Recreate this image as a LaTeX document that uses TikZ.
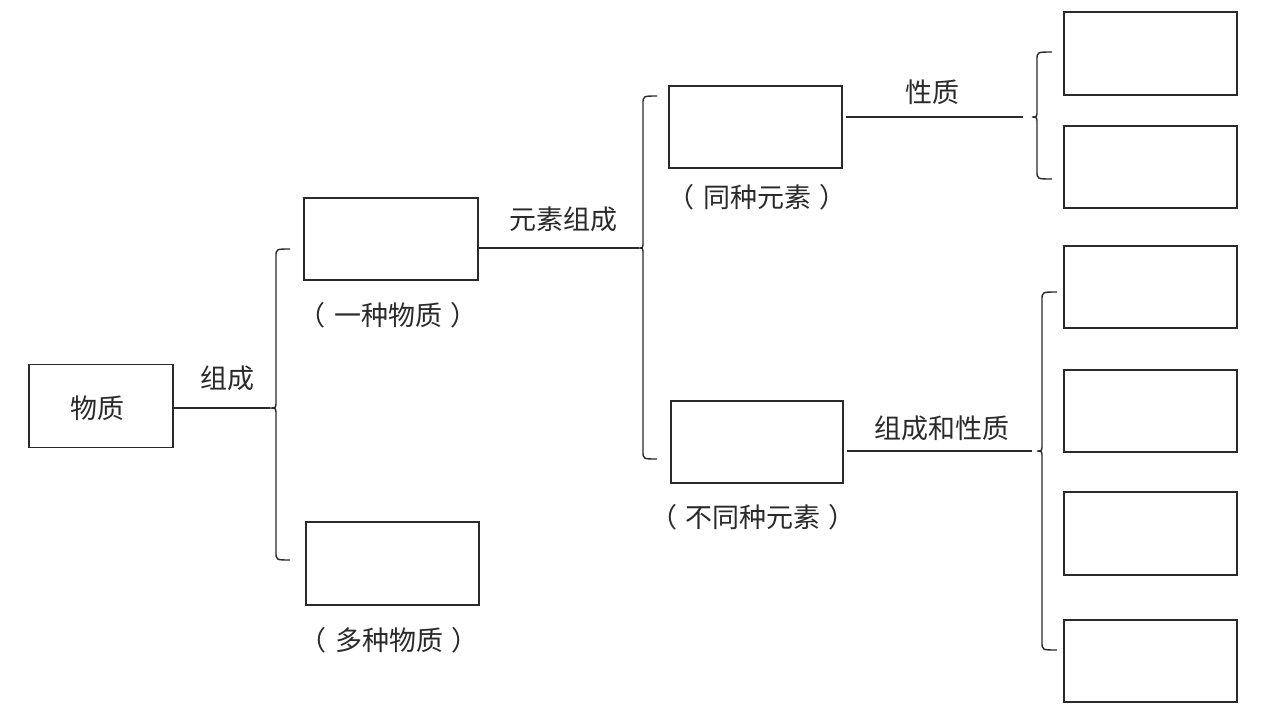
\documentclass[tikz,border=0pt]{standalone}
\usepackage{fontspec}
\setmainfont{Noto Sans CJK SC}
\definecolor{ink}{HTML}{2A2A2A}
\tikzset{
  blank/.style={draw=ink, line width=1.3pt, rectangle, inner sep=0pt, outer sep=0pt, minimum width=173pt, minimum height=82pt},
  lbl/.style={text=ink, font=\fontsize{27}{32}\selectfont, inner sep=0pt},
  conn/.style={draw=ink, line width=1.3pt},
  bracestyle/.style={draw=ink, line width=1.4pt}
}
\newcommand{\lp}{（\hspace{0.3em}}
\newcommand{\rp}{\hspace{0.3em}）}
\newcommand{\curlybrace}[7]{%
  \draw[bracestyle] (#1,#4) .. controls (#2,#4) .. (#2,#4+8) -- (#2,#5-7)
    .. controls (#2,#5) .. (#3,#5) .. controls (#2,#5) .. (#2,#5+7)
    -- (#2,#6-8) .. controls (#2,#6) .. (#1,#6);
  \coordinate (#7) at (#3,#5);}
\begin{document}
\begin{tikzpicture}[x=1pt,y=-1pt]
\fill[white] (0,0) rectangle (1267,710);
\useasboundingbox (0,0) rectangle (1267,710);

% boxes
\node[blank, minimum width=144pt, minimum height=83pt] (wz) at (101,406) {};
\node[lbl] (wzt) at (97,408) {物质};
\node[blank, minimum width=174pt] (yz) at (391,239) {};
\node[blank, minimum height=83pt] (dz) at (392.5,563.5) {};
\node[blank] (tz) at (755.5,127) {};
\node[blank, minimum width=172pt] (btz) at (757,442) {};
\node[blank, minimum height=83pt] (r1) at (1150.5,53.5) {};
\node[blank] (r2) at (1150.5,167) {};
\node[blank] (r3) at (1150.5,287) {};
\node[blank] (r4) at (1150.5,411) {};
\node[blank, minimum height=83pt] (r5) at (1150.5,533.5) {};
\node[blank] (r6) at (1150.5,661) {};

% braces
\curlybrace{290}{276}{270}{249}{408}{560}{b1}
\curlybrace{657}{643}{639}{96}{248}{459}{b2}
\curlybrace{1052}{1037}{1032}{52}{117}{179}{b3}
\curlybrace{1057}{1042}{1037}{292}{451}{650}{b4}

% connectors
\draw[conn] (wz.east |- b1) -- (b1);
\draw[conn] (yz.east |- b2) -- (b2);
\draw[conn, shorten <=4pt, shorten >=9pt] (tz.east |- b3) -- (b3);
\draw[conn, shorten <=4pt, shorten >=5pt] (btz.east |- b4) -- (b4);

% labels
\node[lbl] (l1) at (227,378) {组成};
\node[lbl] (l2) at (563,219) {元素组成};
\node[lbl] (l3) at (932,92) {性质};
\node[lbl] (l4) at (942,428) {组成和性质};
\node[lbl] (c1) at (388,315) {\lp 一种物质\rp};
\node[lbl] (c2) at (389,640) {\lp 多种物质\rp};
\node[lbl] (c3) at (757,197) {\lp 同种元素\rp};
\node[lbl] (c4) at (753,517) {\lp 不同种元素\rp};
\end{tikzpicture}
\end{document}
